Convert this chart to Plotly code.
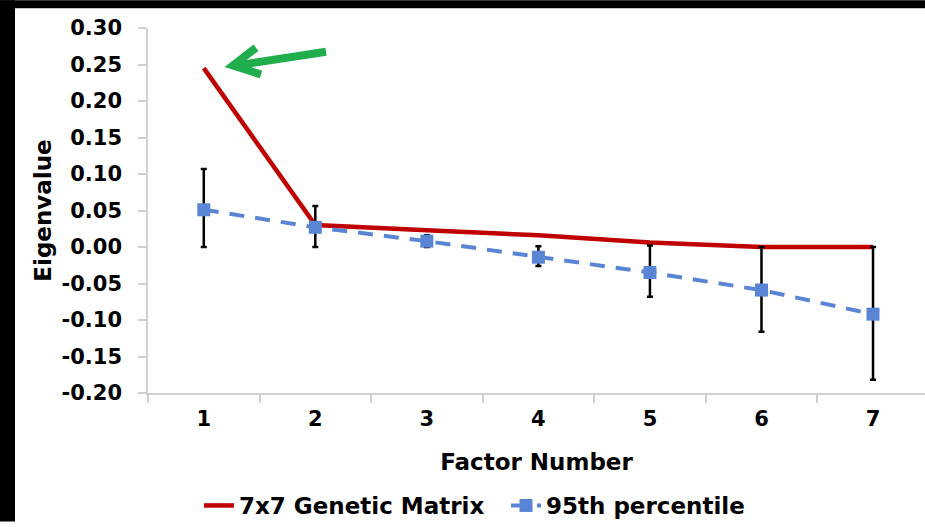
import plotly.graph_objects as go

# ---- data ----
factors = ["1", "2", "3", "4", "5", "6", "7"]
genetic = [0.245, 0.030, 0.023, 0.016, 0.006, 0.000, 0.000]
pct95 = [0.051, 0.027, 0.008, -0.014, -0.035, -0.059, -0.092]
pct95_upper = [0.107, 0.056, 0.016, 0.001, 0.002, 0.000, 0.000]
pct95_lower = [0.000, 0.000, 0.000, -0.026, -0.068, -0.116, -0.182]
y_ticks = [0.30, 0.25, 0.20, 0.15, 0.10, 0.05, 0.00, -0.05, -0.10, -0.15, -0.20]
y_tick_text = ["%.2f" % v for v in y_ticks]

err_plus = [u - p for u, p in zip(pct95_upper, pct95)]
err_minus = [p - l for p, l in zip(pct95, pct95_lower)]

W, H = 925, 527
ML, MR, MT, MB = 148, 0, 28, 130
PW, PH = W - ML - MR, H - MT - MB

def px(x):
    return (x - ML) / PW

def py(y):
    return (H - MB - y) / PH

FONT = "DejaVu Sans"
RED = "#c00000"
BLUE = "#5a85d4"
GREEN = "#1fae4b"
AXIS = "#d0d0d0"

fig = go.Figure()
fig.add_trace(go.Scatter(
    x=factors, y=genetic, mode="lines", name="7x7 Genetic Matrix",
    line=dict(color=RED, width=4.5),
))
fig.add_trace(go.Scatter(
    x=factors, y=pct95, mode="lines+markers", name="95th percentile",
    line=dict(color=BLUE, width=4, dash="15px,11px"),
    marker=dict(symbol="square", size=13, color=BLUE),
    error_y=dict(type="data", symmetric=False, array=err_plus, arrayminus=err_minus,
                 color="black", thickness=2.5, width=3),
))

# green arrow pointing at the first eigenvalue
arrow_path = "M {} {} L {} {} M {} {} L {} {} L {} {}".format(
    px(326), py(52), px(236), py(66),
    px(256), py(48), px(233), py(66), px(261), py(75))
fig.add_shape(type="path", xref="paper", yref="paper", path=arrow_path,
              line=dict(color=GREEN, width=8))

# black frame strips of the screenshot
fig.add_shape(type="rect", xref="paper", yref="paper",
              x0=px(0), x1=px(15), y0=py(H), y1=py(0),
              fillcolor="black", line=dict(width=0))
fig.add_shape(type="rect", xref="paper", yref="paper",
              x0=px(0), x1=px(W), y0=py(8), y1=py(0),
              fillcolor="black", line=dict(width=0))

fig.update_layout(
    width=W, height=H,
    margin=dict(l=ML, r=MR, t=MT, b=MB, pad=0),
    paper_bgcolor="white", plot_bgcolor="white",
    font=dict(family=FONT, color="black", size=21, weight="bold"),
    showlegend=True,
    legend=dict(orientation="h", x=px(199), xanchor="left", y=py(511), yanchor="middle",
                font=dict(family=FONT, size=23, color="black", weight="bold"),
                bgcolor="rgba(0,0,0,0)", itemwidth=30, tracegroupgap=0,
                entrywidth=262, entrywidthmode="pixels"),
)
fig.update_xaxes(
    type="category", range=[-0.5, 6.466], tickson="boundaries",
    showline=True, linecolor=AXIS, linewidth=1.5,
    ticks="outside", ticklen=8, tickcolor=AXIS, tickwidth=1.5,
    showgrid=False, zeroline=False, ticklabelstandoff=6,
    tickfont=dict(family=FONT, size=21, weight="bold"),
    title=dict(text="Factor Number", font=dict(family=FONT, size=23, weight="bold"), standoff=24),
)
fig.update_yaxes(
    range=[-0.20, 0.30], tickvals=y_ticks, ticktext=y_tick_text,
    showline=True, linecolor=AXIS, linewidth=1.5,
    ticks="outside", ticklen=8, tickcolor=AXIS, tickwidth=1.5,
    showgrid=False, zeroline=False, ticklabelstandoff=12,
    tickfont=dict(family=FONT, size=21, weight="bold"),
    title=dict(text="Eigenvalue", font=dict(family=FONT, size=23, weight="bold"), standoff=3),
)

fig.write_html("out.html", config={"displayModeBar": False},
               post_script="document.body.style.margin='0';document.body.style.overflow='hidden';")
